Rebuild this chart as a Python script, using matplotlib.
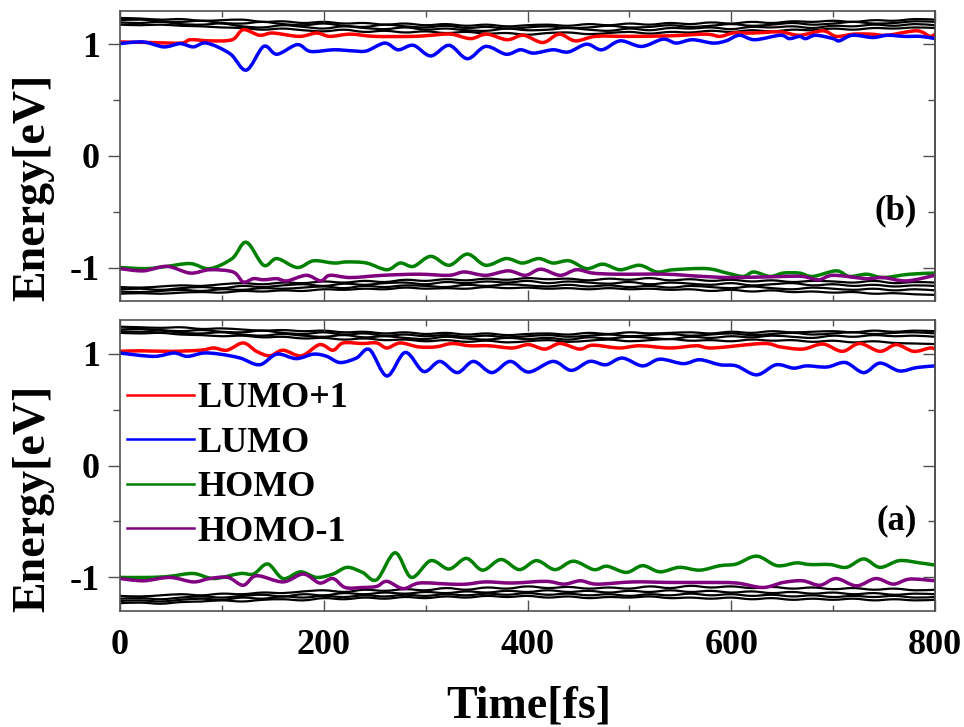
import numpy as np
import matplotlib
matplotlib.use("Agg")
import matplotlib.pyplot as plt
from matplotlib.ticker import MultipleLocator
from matplotlib.lines import Line2D
from matplotlib.path import Path
from matplotlib.patches import PathPatch

plt.rcParams['font.family'] = ['Liberation Serif', 'DejaVu Serif']
plt.rcParams['font.weight'] = 'bold'
plt.rcParams['axes.unicode_minus'] = False

# ---------------- data ----------------
t_grid = np.arange(0, 801, 20)

# panel (b) - top
b_lumo1_t = [0, 30, 60, 69, 88, 110, 121, 137, 150, 176, 193, 206, 226, 250, 288, 305, 325, 344, 360, 380, 396, 415,
             431, 447, 467, 500, 540, 575, 589, 602, 621, 648, 667, 690, 703, 720, 737, 753, 782, 795, 800]
b_lumo1_y = [1.02, 1.015, 1.01, 1.04, 1.03, 1.04, 1.13, 1.08, 1.10, 1.07, 1.10, 1.07, 1.09, 1.07, 1.07, 1.08, 1.09, 1.05, 1.09, 1.04, 1.08, 1.015,
             1.09, 1.03, 1.07, 1.07, 1.075, 1.09, 1.07, 1.10, 1.10, 1.11, 1.08, 1.12, 1.07, 1.09, 1.09, 1.08, 1.12, 1.07, 1.09]
b_lumo_t = [0, 23, 43, 59, 72, 85, 108, 124, 141, 154, 174, 187, 210, 229, 242, 260, 273, 288, 305, 323, 341, 359, 379, 393, 406,
            425, 440, 458, 473, 491, 512, 533, 546, 562, 582, 595, 608, 623, 648, 657, 667, 673, 683, 700, 706, 719, 739, 753, 770, 786, 800]
b_lumo_y = [1.006, 1.02, 0.976, 1.005, 0.976, 1.01, 0.915, 0.768, 0.98, 0.91, 0.996, 0.935, 0.95, 0.94, 0.94, 1.01, 0.95, 0.99, 0.895, 0.99, 0.87, 0.98, 0.91, 0.95, 0.92,
            0.95, 0.93, 1.0, 0.95, 1.03, 0.98, 1.045, 1.01, 1.04, 1.01, 1.03, 1.08, 1.04, 1.08, 1.05, 1.07, 1.05, 1.08, 1.05, 1.03, 1.08, 1.06, 1.08, 1.07, 1.07, 1.05]
b_homo_t = [0, 26, 46, 69, 88, 110, 124, 141, 154, 174, 190, 210, 223, 242, 262, 275, 288, 305, 323, 341, 359, 379, 395, 411,
            425, 441, 458, 474, 491, 510, 527, 543, 576, 596, 612, 622, 638, 651, 667, 680, 703, 716, 733, 749, 775, 800]
b_homo_y = [-1.0, -1.01, -0.99, -0.965, -1.01, -0.92, -0.774, -0.98, -0.92, -1.0, -0.94, -0.96, -0.95, -0.96, -1.02, -0.96, -0.99, -0.90, -0.98, -0.88, -0.98, -0.92, -0.96, -0.92,
            -0.96, -0.94, -1.01, -0.97, -1.02, -0.98, -1.04, -1.02, -1.01, -1.05, -1.08, -1.04, -1.08, -1.05, -1.05, -1.08, -1.03, -1.08, -1.06, -1.09, -1.06, -1.05]
b_homo1_t = [0, 23, 46, 69, 88, 111, 121, 131, 141, 154, 164, 183, 197, 206, 226, 258, 293, 323, 338, 359, 381, 398, 413,
             432, 448, 464, 488, 535, 572, 602, 651, 670, 686, 700, 733, 749, 772, 800]
b_homo1_y = [-1.01, -1.03, -0.99, -1.05, -1.02, -1.04, -1.13, -1.10, -1.11, -1.10, -1.12, -1.07, -1.12, -1.07, -1.09, -1.07, -1.06, -1.07, -1.04, -1.07, -1.03, -1.07, -1.015,
             -1.07, -1.02, -1.05, -1.06, -1.06, -1.08, -1.09, -1.08, -1.08, -1.11, -1.07, -1.10, -1.09, -1.12, -1.07]

b_black_up1 = [1.235, 1.23, 1.22, 1.225, 1.21, 1.215, 1.22, 1.20, 1.205, 1.19, 1.20, 1.185, 1.19, 1.175, 1.185, 1.17, 1.18, 1.165, 1.175, 1.16, 1.17,
               1.175, 1.165, 1.18, 1.17, 1.185, 1.175, 1.19, 1.18, 1.195, 1.185, 1.20, 1.19, 1.205, 1.20, 1.21, 1.20, 1.215, 1.21, 1.225, 1.22]
b_black_up2 = [1.215, 1.22, 1.205, 1.20, 1.21, 1.19, 1.185, 1.20, 1.18, 1.17, 1.185, 1.165, 1.155, 1.175, 1.16, 1.15, 1.165, 1.145, 1.155, 1.14, 1.15,
               1.16, 1.145, 1.15, 1.165, 1.15, 1.155, 1.17, 1.155, 1.165, 1.18, 1.165, 1.175, 1.19, 1.175, 1.185, 1.20, 1.185, 1.19, 1.205, 1.20]
b_black_up3 = [1.195, 1.19, 1.20, 1.18, 1.175, 1.185, 1.16, 1.15, 1.17, 1.155, 1.14, 1.16, 1.145, 1.135, 1.15, 1.13, 1.14, 1.125, 1.12, 1.14, 1.125,
               1.13, 1.145, 1.13, 1.12, 1.14, 1.125, 1.145, 1.14, 1.15, 1.135, 1.155, 1.15, 1.16, 1.145, 1.165, 1.16, 1.175, 1.165, 1.18, 1.17]
b_black_up4 = [1.175, 1.17, 1.175, 1.165, 1.16, 1.15, 1.145, 1.13, 1.14, 1.125, 1.115, 1.13, 1.11, 1.12, 1.105, 1.115, 1.10, 1.11, 1.095, 1.10, 1.085,
               1.10, 1.105, 1.09, 1.10, 1.11, 1.095, 1.11, 1.105, 1.12, 1.11, 1.125, 1.115, 1.13, 1.125, 1.14, 1.13, 1.145, 1.14, 1.15, 1.145]
b_black_lo1 = [-1.175, -1.18, -1.17, -1.16, -1.165, -1.15, -1.14, -1.15, -1.135, -1.14, -1.125, -1.135, -1.12, -1.13, -1.11, -1.12, -1.105, -1.115, -1.10, -1.11, -1.095,
               -1.105, -1.10, -1.115, -1.10, -1.11, -1.095, -1.115, -1.105, -1.12, -1.11, -1.125, -1.115, -1.13, -1.12, -1.125, -1.135, -1.12, -1.14, -1.13, -1.135]
b_black_lo2 = [-1.195, -1.19, -1.20, -1.185, -1.175, -1.185, -1.165, -1.175, -1.16, -1.15, -1.165, -1.145, -1.155, -1.14, -1.135, -1.15, -1.13, -1.14, -1.125, -1.135, -1.12,
               -1.14, -1.125, -1.135, -1.145, -1.13, -1.15, -1.135, -1.145, -1.155, -1.14, -1.16, -1.15, -1.14, -1.16, -1.15, -1.165, -1.155, -1.17, -1.16, -1.165]
b_black_lo3 = [-1.215, -1.22, -1.21, -1.20, -1.21, -1.195, -1.20, -1.185, -1.19, -1.18, -1.17, -1.185, -1.165, -1.175, -1.16, -1.165, -1.175, -1.155, -1.165, -1.15, -1.16,
               -1.17, -1.155, -1.17, -1.16, -1.175, -1.165, -1.18, -1.165, -1.175, -1.185, -1.17, -1.185, -1.195, -1.18, -1.19, -1.20, -1.19, -1.205, -1.195, -1.205]
b_black_lo4 = [-1.235, -1.23, -1.235, -1.225, -1.22, -1.225, -1.21, -1.215, -1.205, -1.21, -1.195, -1.20, -1.19, -1.195, -1.18, -1.19, -1.185, -1.19, -1.175, -1.185, -1.18,
               -1.19, -1.185, -1.195, -1.185, -1.195, -1.19, -1.20, -1.195, -1.21, -1.20, -1.215, -1.205, -1.22, -1.215, -1.225, -1.22, -1.235, -1.23, -1.24, -1.245]

# panel (a) - bottom
a_lumo1_t = [0, 20, 50, 79, 92, 105, 121, 134, 147, 160, 178, 196, 209, 219, 238, 252, 262, 275, 293, 310, 326, 343, 362, 385, 401, 417,
             432, 451, 464, 490, 510, 540, 566, 582, 631, 648, 670, 690, 709, 726, 746, 762, 779, 795, 800]
a_lumo1_y = [1.02, 1.025, 1.02, 1.03, 1.05, 1.03, 1.095, 1.02, 0.98, 1.03, 0.98, 1.08, 1.03, 1.095, 1.09, 1.095, 1.05, 1.095, 1.06, 1.06, 1.09, 1.07, 1.07, 1.05, 1.08, 1.04,
             1.09, 1.04, 1.075, 1.05, 1.07, 1.05, 1.07, 1.05, 1.09, 1.06, 1.04, 1.085, 1.02, 1.09, 1.02, 1.08, 1.02, 1.05, 1.04]
a_lumo_t = [0, 33, 53, 66, 82, 98, 118, 137, 154, 173, 190, 203, 216, 232, 245, 262, 280, 298, 314, 331, 347, 365, 383, 401,
            425, 443, 461, 477, 493, 513, 530, 553, 569, 589, 605, 625, 644, 661, 674, 694, 712, 730, 746, 765, 782, 800]
a_lumo_y = [1.005, 0.975, 1.005, 0.975, 1.005, 0.995, 0.96, 0.90, 0.995, 0.955, 0.995, 0.975, 0.92, 0.96, 1.035, 0.80, 1.01, 0.84, 0.93, 0.83, 0.93, 0.83, 0.93, 0.835,
            0.93, 0.85, 0.93, 0.90, 0.96, 0.89, 0.95, 0.91, 0.945, 0.90, 0.89, 0.81, 0.90, 0.87, 0.89, 0.88, 0.92, 0.83, 0.915, 0.845, 0.875, 0.89]
a_homo_t = [0, 29, 49, 72, 92, 118, 131, 145, 160, 177, 193, 209, 223, 238, 252, 270, 286, 305, 323, 340, 356, 374, 392, 409,
            427, 445, 465, 478, 497, 513, 530, 549, 569, 589, 605, 625, 645, 664, 677, 697, 713, 730, 746, 765, 785, 800]
a_homo_y = [-1.0, -1.0, -0.99, -0.965, -1.01, -0.965, -0.97, -0.88, -1.01, -0.95, -1.0, -0.97, -0.91, -0.955, -1.02, -0.78, -1.0, -0.85, -0.925, -0.83, -0.935, -0.84, -0.93, -0.85,
            -0.93, -0.855, -0.93, -0.90, -0.955, -0.895, -0.95, -0.91, -0.935, -0.895, -0.88, -0.81, -0.895, -0.87, -0.885, -0.885, -0.91, -0.835, -0.91, -0.85, -0.87, -0.89]
a_homo1_t = [0, 23, 49, 72, 88, 106, 121, 134, 160, 180, 196, 209, 221, 238, 252, 262, 278, 294, 324, 340, 359, 385, 418,
             436, 452, 468, 504, 540, 573, 605, 631, 651, 670, 687, 703, 723, 742, 759, 775, 800]
a_homo1_y = [-1.01, -1.03, -1.0, -1.04, -1.01, -1.0, -1.07, -0.985, -1.04, -0.97, -1.05, -1.01, -1.09, -1.09, -1.08, -1.035, -1.10, -1.05, -1.06, -1.06, -1.04, -1.05, -1.035,
             -1.06, -1.03, -1.06, -1.04, -1.045, -1.045, -1.05, -1.09, -1.045, -1.03, -1.07, -1.01, -1.075, -1.01, -1.06, -1.015, -1.03]

a_black_up1 = [1.24, 1.235, 1.23, 1.235, 1.22, 1.225, 1.215, 1.205, 1.21, 1.20, 1.205, 1.19, 1.195, 1.18, 1.19, 1.175, 1.185, 1.17, 1.18, 1.165, 1.175,
               1.18, 1.17, 1.185, 1.175, 1.19, 1.18, 1.185, 1.19, 1.18, 1.195, 1.185, 1.20, 1.19, 1.195, 1.20, 1.19, 1.205, 1.195, 1.205, 1.20]
a_black_up2 = [1.215, 1.22, 1.21, 1.20, 1.21, 1.195, 1.19, 1.205, 1.185, 1.175, 1.19, 1.17, 1.18, 1.16, 1.17, 1.155, 1.165, 1.15, 1.16, 1.145, 1.155,
               1.165, 1.15, 1.16, 1.17, 1.155, 1.165, 1.175, 1.16, 1.17, 1.18, 1.165, 1.175, 1.185, 1.17, 1.18, 1.19, 1.175, 1.185, 1.19, 1.18]
a_black_up3 = [1.20, 1.195, 1.205, 1.185, 1.18, 1.19, 1.17, 1.16, 1.175, 1.16, 1.15, 1.165, 1.145, 1.155, 1.14, 1.13, 1.15, 1.135, 1.125, 1.14, 1.13,
               1.14, 1.125, 1.145, 1.135, 1.15, 1.14, 1.13, 1.15, 1.14, 1.155, 1.145, 1.16, 1.15, 1.14, 1.16, 1.15, 1.165, 1.155, 1.16, 1.15]
a_black_up4 = [1.185, 1.18, 1.185, 1.17, 1.165, 1.155, 1.16, 1.145, 1.15, 1.135, 1.14, 1.125, 1.135, 1.12, 1.125, 1.11, 1.12, 1.105, 1.115, 1.10, 1.11,
               1.12, 1.105, 1.115, 1.125, 1.11, 1.12, 1.13, 1.115, 1.12, 1.11, 1.125, 1.115, 1.12, 1.105, 1.115, 1.10, 1.11, 1.095, 1.09, 1.085]
a_black_lo1 = [-1.165, -1.17, -1.16, -1.15, -1.16, -1.145, -1.15, -1.135, -1.14, -1.125, -1.115, -1.13, -1.11, -1.12, -1.105, -1.115, -1.095, -1.11, -1.09, -1.10, -1.08,
               -1.095, -1.085, -1.10, -1.09, -1.10, -1.08, -1.095, -1.075, -1.09, -1.08, -1.095, -1.085, -1.10, -1.09, -1.105, -1.095, -1.11, -1.10, -1.115, -1.11]
a_black_lo2 = [-1.19, -1.185, -1.195, -1.18, -1.17, -1.18, -1.165, -1.155, -1.17, -1.15, -1.16, -1.14, -1.15, -1.135, -1.145, -1.13, -1.14, -1.125, -1.135, -1.12, -1.13,
               -1.115, -1.13, -1.12, -1.135, -1.12, -1.13, -1.115, -1.13, -1.12, -1.135, -1.125, -1.14, -1.13, -1.145, -1.135, -1.15, -1.14, -1.155, -1.145, -1.15]
a_black_lo3 = [-1.21, -1.205, -1.215, -1.20, -1.19, -1.20, -1.18, -1.19, -1.17, -1.18, -1.165, -1.175, -1.16, -1.17, -1.155, -1.165, -1.15, -1.16, -1.145, -1.155, -1.14,
               -1.155, -1.145, -1.16, -1.15, -1.165, -1.15, -1.16, -1.145, -1.16, -1.15, -1.165, -1.155, -1.17, -1.16, -1.175, -1.165, -1.175, -1.165, -1.18, -1.175]
a_black_lo4 = [-1.23, -1.225, -1.235, -1.22, -1.215, -1.205, -1.215, -1.20, -1.195, -1.205, -1.185, -1.195, -1.18, -1.19, -1.175, -1.185, -1.17, -1.18, -1.165, -1.175, -1.165,
               -1.18, -1.17, -1.185, -1.175, -1.18, -1.17, -1.185, -1.18, -1.19, -1.18, -1.195, -1.185, -1.20, -1.19, -1.20, -1.19, -1.205, -1.195, -1.205, -1.20]

labels = ["LUMO+1", "LUMO", "HOMO", "HOMO-1"]
colors = ["#ff0000", "#0000ff", "#008000", "#800080"]
x_ticks = [0, 200, 400, 600, 800]
y_ticks = [-1, 0, 1]


def smooth_line(ax, xs, ys, **kw):
    """Draw a smooth curve through the data points (Catmull-Rom as cubic Bezier path)."""
    p = np.column_stack([np.asarray(xs, float), np.asarray(ys, float)])
    n = len(p)
    verts = [p[0]]
    codes = [Path.MOVETO]
    for i in range(n - 1):
        p0 = p[i - 1] if i > 0 else p[i]
        p1, p2 = p[i], p[i + 1]
        p3 = p[i + 2] if i + 2 < n else p[i + 1]
        c1 = p1 + (p2 - p0) / 6.0
        c2 = p2 - (p3 - p1) / 6.0
        verts += [c1, c2, p2]
        codes += [Path.CURVE4] * 3
    patch = PathPatch(Path(verts, codes), facecolor="none", capstyle="round",
                      joinstyle="round", **kw)
    ax.add_patch(patch)
    return patch


# ---------------- figure ----------------
fig = plt.figure(figsize=(9.64, 7.27), dpi=100)
L, R = 120 / 964, 935 / 964
ax_b = fig.add_axes([L, 1 - 301 / 727, R - L, (301 - 10.7) / 727])
ax_a = fig.add_axes([L, 1 - 611 / 727, R - L, (611 - 320) / 727])

spine_col = "#505050"
panels = [
    (ax_b, [b_black_up1, b_black_up2, b_black_up3, b_black_up4, b_black_lo1, b_black_lo2, b_black_lo3, b_black_lo4],
     [(b_lumo1_t, b_lumo1_y), (b_lumo_t, b_lumo_y), (b_homo_t, b_homo_y), (b_homo1_t, b_homo1_y)], "(b)"),
    (ax_a, [a_black_up1, a_black_up2, a_black_up3, a_black_up4, a_black_lo1, a_black_lo2, a_black_lo3, a_black_lo4],
     [(a_lumo1_t, a_lumo1_y), (a_lumo_t, a_lumo_y), (a_homo_t, a_homo_y), (a_homo1_t, a_homo1_y)], "(a)"),
]

for ax, blacks, colored, tag in panels:
    for yb in blacks:
        smooth_line(ax, t_grid, yb, edgecolor="black", lw=1.6)
    for (tt, yy), c in zip(colored, colors):
        smooth_line(ax, tt, yy, edgecolor=c, lw=2.5)
    ax.set_xlim(0, 800)
    ax.set_ylim(-1.3, 1.3)
    ax.set_xticks(x_ticks)
    ax.xaxis.set_minor_locator(MultipleLocator(100))
    ax.set_yticks(y_ticks)
    ax.yaxis.set_minor_locator(MultipleLocator(0.5))
    ax.tick_params(axis="x", which="both", direction="in", top=True, bottom=True, color=spine_col, width=1)
    ax.tick_params(axis="x", which="major", length=8, labelsize=26, pad=13)
    ax.tick_params(axis="x", which="minor", length=4.5)
    ax.tick_params(axis="y", which="both", direction="out", left=True, right=False, color=spine_col, width=1)
    ax.tick_params(axis="y", which="major", length=8.6, labelsize=26, pad=6)
    ax.tick_params(axis="y", which="minor", length=5)
    sec = ax.secondary_yaxis("right")
    sec.set_yticks(y_ticks)
    sec.yaxis.set_minor_locator(MultipleLocator(0.5))
    sec.tick_params(axis="y", which="both", direction="in", labelright=False, color=spine_col, width=1)
    sec.tick_params(axis="y", which="major", length=8.6)
    sec.tick_params(axis="y", which="minor", length=5)
    sec.spines["right"].set_color(spine_col)
    sec.spines["right"].set_linewidth(1.2)
    for s in ax.spines.values():
        s.set_color(spine_col)
        s.set_linewidth(1.2)
    for lab in ax.get_xticklabels() + ax.get_yticklabels():
        lab.set_fontweight("bold")
    ax.text(0.978, 0.31, tag, transform=ax.transAxes, ha="right", va="center",
            fontsize=25, fontweight="bold")

ax_b.tick_params(axis="x", labelbottom=False)

handles = [Line2D([], [], color=c, lw=1.8) for c in colors]
ax_a.legend(handles, labels, loc="center left", bbox_to_anchor=(0.0, 0.50), frameon=False,
            prop={"weight": "bold", "size": 26}, handlelength=1.85, handletextpad=0.1,
            labelspacing=0.31, borderpad=0, borderaxespad=0.2)

fig.text(33 / 964, 1 - 187 / 727, "Energy[eV]", rotation=90, ha="center", va="center",
         fontsize=33, fontweight="bold")
fig.text(33 / 964, 1 - 498 / 727, "Energy[eV]", rotation=90, ha="center", va="center",
         fontsize=33, fontweight="bold")
fig.text(529 / 964, 1 - 706 / 727, "Time[fs]", ha="center", va="center",
         fontsize=33, fontweight="bold")

fig.savefig("out.png", dpi=100)
